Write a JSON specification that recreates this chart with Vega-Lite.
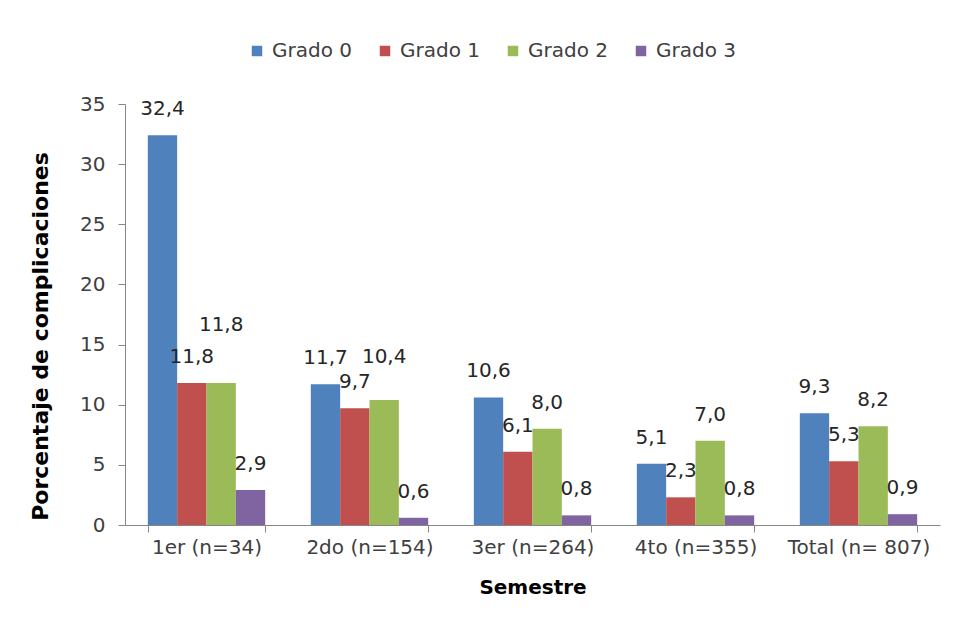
{
  "$schema": "https://vega.github.io/schema/vega-lite/v6.json",
  "width": 815,
  "height": 421,
  "padding": {"left": 29, "top": 41, "right": 5, "bottom": 5},
  "background": "white",
  "config": {
    "locale": {"number": {"decimal": ",", "thousands": ".", "grouping": [3], "currency": ["", ""]}},
    "font": "DejaVu Sans",
    "view": {"stroke": null},
    "axis": {"grid": false, "domainColor": "#868686", "tickColor": "#868686", "labelColor": "#404040", "labelFontSize": 20, "titleFontSize": 20, "titleFontWeight": "bold", "titleColor": "#000000", "labelFont": "DejaVu Sans", "titleFont": "DejaVu Sans"},
    "legend": {"labelFontSize": 20, "labelColor": "#404040", "labelFont": "DejaVu Sans"}
  },
  "data": {
    "values": [
      {"Semestre": "1er (n=34)", "Grado": "Grado 0", "Porcentaje": 32.4},
      {"Semestre": "1er (n=34)", "Grado": "Grado 1", "Porcentaje": 11.8},
      {"Semestre": "1er (n=34)", "Grado": "Grado 2", "Porcentaje": 11.8},
      {"Semestre": "1er (n=34)", "Grado": "Grado 3", "Porcentaje": 2.9},
      {"Semestre": "2do (n=154)", "Grado": "Grado 0", "Porcentaje": 11.7},
      {"Semestre": "2do (n=154)", "Grado": "Grado 1", "Porcentaje": 9.7},
      {"Semestre": "2do (n=154)", "Grado": "Grado 2", "Porcentaje": 10.4},
      {"Semestre": "2do (n=154)", "Grado": "Grado 3", "Porcentaje": 0.6},
      {"Semestre": "3er (n=264)", "Grado": "Grado 0", "Porcentaje": 10.6},
      {"Semestre": "3er (n=264)", "Grado": "Grado 1", "Porcentaje": 6.1},
      {"Semestre": "3er (n=264)", "Grado": "Grado 2", "Porcentaje": 8.0},
      {"Semestre": "3er (n=264)", "Grado": "Grado 3", "Porcentaje": 0.8},
      {"Semestre": "4to (n=355)", "Grado": "Grado 0", "Porcentaje": 5.1},
      {"Semestre": "4to (n=355)", "Grado": "Grado 1", "Porcentaje": 2.3},
      {"Semestre": "4to (n=355)", "Grado": "Grado 2", "Porcentaje": 7.0},
      {"Semestre": "4to (n=355)", "Grado": "Grado 3", "Porcentaje": 0.8},
      {"Semestre": "Total (n= 807)", "Grado": "Grado 0", "Porcentaje": 9.3},
      {"Semestre": "Total (n= 807)", "Grado": "Grado 1", "Porcentaje": 5.3},
      {"Semestre": "Total (n= 807)", "Grado": "Grado 2", "Porcentaje": 8.2},
      {"Semestre": "Total (n= 807)", "Grado": "Grado 3", "Porcentaje": 0.9}
    ]
  },
  "encoding": {
    "x": {
      "field": "Semestre", "type": "nominal", "sort": null,
      "scale": {"paddingInner": 0.28, "paddingOuter": 0.14},
      "axis": {"title": "Semestre", "labelAngle": 0, "tickBand": "extent", "tickSize": 7, "labelPadding": 5, "titlePadding": 20}
    },
    "xOffset": {"field": "Grado", "type": "nominal", "scale": {"paddingInner": 0}},
    "y": {
      "field": "Porcentaje", "type": "quantitative",
      "scale": {"domain": [0, 35]},
      "axis": {"title": "Porcentaje de complicaciones", "titleFontSize": 22, "titleY": 232, "values": [0, 5, 10, 15, 20, 25, 30, 35], "tickSize": 7, "labelPadding": 13, "titlePadding": 27}
    }
  },
  "layer": [
    {
      "mark": {"type": "bar"},
      "encoding": {
        "color": {
          "field": "Grado", "type": "nominal",
          "scale": {"domain": ["Grado 0", "Grado 1", "Grado 2", "Grado 3"], "range": ["#4F81BD", "#C0504D", "#9BBB59", "#8064A2"]},
          "legend": {"title": null, "orient": "none", "direction": "horizontal", "legendX": 122, "legendY": -63, "symbolType": "square", "symbolSize": 110, "symbolStrokeWidth": 0, "labelOffset": 5, "columnPadding": 23}
        }
      }
    },
    {
      "transform": [{"filter": "!((datum.Semestre == '1er (n=34)' || datum.Semestre == '2do (n=154)') && datum.Grado == 'Grado 2')"}],
      "mark": {"type": "text", "baseline": "middle", "dy": -26, "fontSize": 20, "color": "#262626"},
      "encoding": {"text": {"field": "Porcentaje", "type": "quantitative", "format": ".1f"}}
    },
    {
      "transform": [{"filter": "datum.Semestre == '1er (n=34)' && datum.Grado == 'Grado 2'"}],
      "mark": {"type": "text", "baseline": "middle", "dy": -58, "fontSize": 20, "color": "#262626"},
      "encoding": {"text": {"field": "Porcentaje", "type": "quantitative", "format": ".1f"}}
    },
    {
      "transform": [{"filter": "datum.Semestre == '2do (n=154)' && datum.Grado == 'Grado 2'"}],
      "mark": {"type": "text", "baseline": "middle", "dy": -43, "fontSize": 20, "color": "#262626"},
      "encoding": {"text": {"field": "Porcentaje", "type": "quantitative", "format": ".1f"}}
    }
  ]
}
